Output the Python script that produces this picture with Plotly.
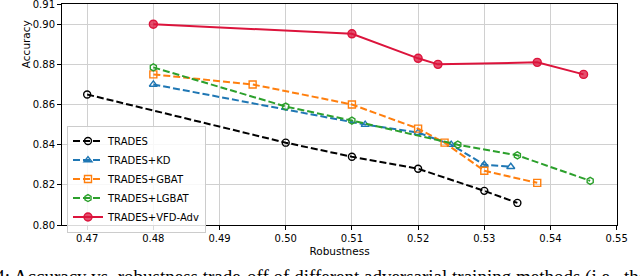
import plotly.graph_objects as go

# ---- data ----
trades_x = [0.47, 0.50, 0.51, 0.52, 0.53, 0.535]
trades_y = [0.865, 0.841, 0.834, 0.828, 0.817, 0.811]

kd_x = [0.48, 0.512, 0.520, 0.525, 0.530, 0.534]
kd_y = [0.870, 0.850, 0.846, 0.840, 0.830, 0.829]

gbat_x = [0.48, 0.495, 0.51, 0.52, 0.524, 0.53, 0.538]
gbat_y = [0.875, 0.870, 0.860, 0.848, 0.841, 0.827, 0.821]

lgbat_x = [0.48, 0.50, 0.51, 0.526, 0.535, 0.546]
lgbat_y = [0.8785, 0.859, 0.852, 0.840, 0.8347, 0.822]

vfd_x = [0.48, 0.51, 0.52, 0.523, 0.538, 0.545]
vfd_y = [0.900, 0.8952, 0.883, 0.880, 0.881, 0.875]

x_ticks = [0.47, 0.48, 0.49, 0.50, 0.51, 0.52, 0.53, 0.54, 0.55]
y_ticks = [0.80, 0.82, 0.84, 0.86, 0.88, 0.90, 0.91]

FONT = "DejaVu Sans"
DASH = "7px,3px"

fig = go.Figure()

def add(x, y, name, color, symbol, dash, fill=None, size=7):
    fig.add_trace(go.Scatter(
        x=x, y=y, name=name, mode="lines+markers",
        line=dict(color=color, width=2, dash=dash),
        marker=dict(symbol=symbol, size=size, color=fill if fill else color,
                    line=dict(color=color, width=1.4)),
    ))

add(trades_x, trades_y, "TRADES", "black", "circle-open", DASH)
add(kd_x, kd_y, "TRADES+KD", "#1f77b4", "triangle-up-open", DASH)
add(gbat_x, gbat_y, "TRADES+GBAT", "#ff7f0e", "square-open", DASH)
add(lgbat_x, lgbat_y, "TRADES+LGBAT", "#2ca02c", "hexagon-open", DASH)
add(vfd_x, vfd_y, "TRADES+VFD-Adv", "#dc143c", "circle", "solid",
    fill="rgba(220,20,60,0.75)", size=8)

axis_common = dict(
    showline=True, linecolor="black", linewidth=1, mirror=True,
    ticks="outside", ticklen=4, tickcolor="black", tickwidth=1,
    showgrid=True, gridcolor="#d0d0d0", gridwidth=1, zeroline=False,
    tickfont=dict(family=FONT, size=10, color="black"),
    ticklabeloverflow="allow", automargin=False,
)

fig.update_xaxes(range=[0.4662, 0.55005], tickvals=x_ticks,
                 ticktext=[f"{v:.2f}" for v in x_ticks],
                 title=dict(text="Robustness", font=dict(family=FONT, size=10.5, color="black"),
                            standoff=4),
                 **axis_common)
fig.update_yaxes(range=[0.80, 0.91005], tickvals=y_ticks,
                 ticktext=[f"{v:.2f}" for v in y_ticks],
                 **axis_common)

fig.add_annotation(text="Accuracy", xref="paper", yref="paper",
                   x=-0.066, y=0.82, textangle=-90, showarrow=False,
                   xanchor="center", yanchor="middle",
                   font=dict(family=FONT, size=10.5, color="black"))

fig.add_annotation(text="Figure 4: Accuracy vs. robustness trade-off of different adversarial training methods (i.e., the",
                   xref="paper", yref="paper", x=-0.222, y=-0.177,
                   xanchor="left", yanchor="top", showarrow=False,
                   font=dict(family="Liberation Serif", size=19, color="black"))

fig.update_layout(
    width=640, height=276,
    margin=dict(l=62, r=23, t=4, b=51),
    plot_bgcolor="white", paper_bgcolor="white",
    showlegend=True,
    legend=dict(x=0.009, y=0.45, xanchor="left", yanchor="top",
                bgcolor="rgba(255,255,255,0.85)", bordercolor="#cccccc", borderwidth=1,
                font=dict(family=FONT, size=10, color="black"),
                itemwidth=30, tracegroupgap=0),
)

fig.write_html("out.html", config={"displayModeBar": False},
               post_script="document.body.style.margin='0';document.body.style.overflow='hidden';")
